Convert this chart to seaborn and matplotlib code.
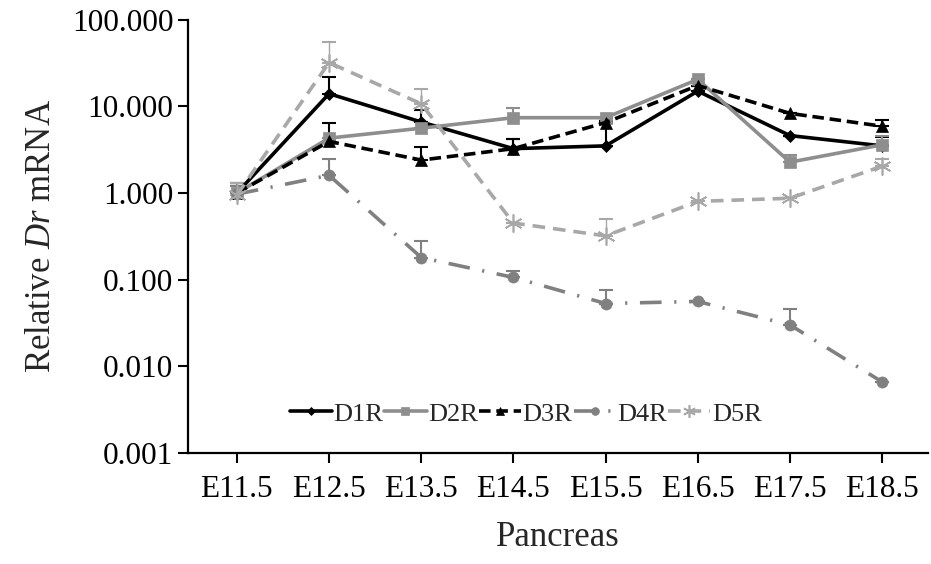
import numpy as np
import pandas as pd
import matplotlib
matplotlib.use("Agg")
import matplotlib.pyplot as plt
import seaborn as sns

# --- Дані ---
stages = ["E11.5", "E12.5", "E13.5", "E14.5", "E15.5", "E16.5", "E17.5", "E18.5"]

d1r = [1.0, 14.0, 6.6, 3.25, 3.5, 15.0, 4.6, 3.5]
d1r_top = [1.3, 22.0, 9.0, 4.2, 6.8, 15.0, 4.6, 4.4]

d2r = [1.0, 4.3, 5.6, 7.4, 7.4, 20.5, 2.27, 3.6]
d2r_top = [1.3, 4.3, 5.6, 9.5, 7.4, 20.5, 2.75, 4.5]

d3r = [1.0, 3.94, 2.4, 3.25, 6.5, 17.4, 8.3, 5.9]
d3r_top = [1.2, 6.45, 3.4, 4.2, 6.5, 17.4, 8.3, 7.0]

d4r = [0.97, 1.6, 0.18, 0.106, 0.053, 0.056, 0.030, 0.0066]
d4r_top = [1.2, 2.47, 0.28, 0.125, 0.076, 0.056, 0.046, 0.0066]

d5r = [0.95, 32.0, 10.7, 0.45, 0.32, 0.80, 0.87, 2.04]
d5r_top = [1.3, 55.0, 16.0, 0.45, 0.50, 0.80, 0.87, 2.5]

series = ["D1R", "D2R", "D3R", "D4R", "D5R"]
values = [d1r, d2r, d3r, d4r, d5r]
tops = [d1r_top, d2r_top, d3r_top, d4r_top, d5r_top]

# --- Стилі ліній ---
colors = {"D1R": "#000000", "D2R": "#8e8e8e", "D3R": "#000000", "D4R": "#808080", "D5R": "#a8a8a8"}
dashes = {"D1R": "", "D2R": "", "D3R": (3.2, 1.6), "D4R": (6, 3.5, 0.6, 3.5), "D5R": (3.5, 2.2)}
markers = {"D1R": "D", "D2R": "s", "D3R": "^", "D4R": "o", "D5R": (6, 2, 0)}
msizes = {"D1R": 6, "D2R": 8, "D3R": 9, "D4R": 8, "D5R": 13}

rows = []
for name, vals in zip(series, values):
    for i, v in enumerate(vals):
        rows.append({"Stage": i, "Value": v, "Receptor": name})
df = pd.DataFrame(rows)

sns.set_style("ticks")
plt.rcParams["font.family"] = ["Liberation Serif", "DejaVu Serif"]
plt.rcParams["mathtext.fontset"] = "custom"
plt.rcParams["mathtext.rm"] = "Liberation Serif"
plt.rcParams["mathtext.it"] = "Liberation Serif:italic"

fig = plt.figure(figsize=(9.31, 5.64), dpi=100)
ax = fig.add_axes([0.202, 0.197, 0.795, 0.768])

x = np.arange(len(stages))
for name, vals, top in zip(series, values, tops):
    sub = df[df["Receptor"] == name]
    # Верхні похибки
    err = np.array(top) - np.array(vals)
    ax.errorbar(x, vals, yerr=[np.zeros_like(err), err], fmt="none",
                ecolor=colors[name], elinewidth=1.5 if name != "D5R" else 1.0,
                capsize=5, capthick=1.5, zorder=2)
    sns.lineplot(data=sub, x="Stage", y="Value", ax=ax, color=colors[name],
                 linewidth=2.6, marker=markers[name], markersize=msizes[name],
                 markeredgecolor=colors[name], markeredgewidth=1.2 if name == "D5R" else 0.5,
                 label=name, zorder=3)
    line = ax.get_lines()[-1]
    if dashes[name]:
        line.set_dashes(dashes[name])

ax.set_yscale("log")
ax.set_ylim(0.001, 100)
ax.set_xlim(-0.53, 7.5)
ax.set_yticks([0.001, 0.01, 0.1, 1, 10, 100])
ax.set_yticklabels(["0.001", "0.010", "0.100", "1.000", "10.000", "100.000"])
ax.yaxis.set_minor_locator(matplotlib.ticker.NullLocator())
ax.set_xticks(x)
ax.set_xticklabels(stages)
ax.tick_params(axis="both", labelsize=22.5, width=1.5, length=7, colors="black")
ax.tick_params(axis="x", pad=9)

for side in ["top", "right"]:
    ax.spines[side].set_visible(False)
for side in ["left", "bottom"]:
    ax.spines[side].set_linewidth(1.6)
    ax.spines[side].set_color("black")

ax.set_xlabel("Pancreas", fontsize=25, labelpad=12)
ax.set_ylabel(r"Relative $\mathit{Dr}$ mRNA", fontsize=25, labelpad=10)

ax.legend(loc="center", bbox_to_anchor=(0.456, 0.09), ncol=5, frameon=False,
          fontsize=19, handlelength=1.6, handletextpad=0.05, columnspacing=0.05,
          markerscale=0.7)

fig.savefig("out.png", dpi=100)
plt.close(fig)
